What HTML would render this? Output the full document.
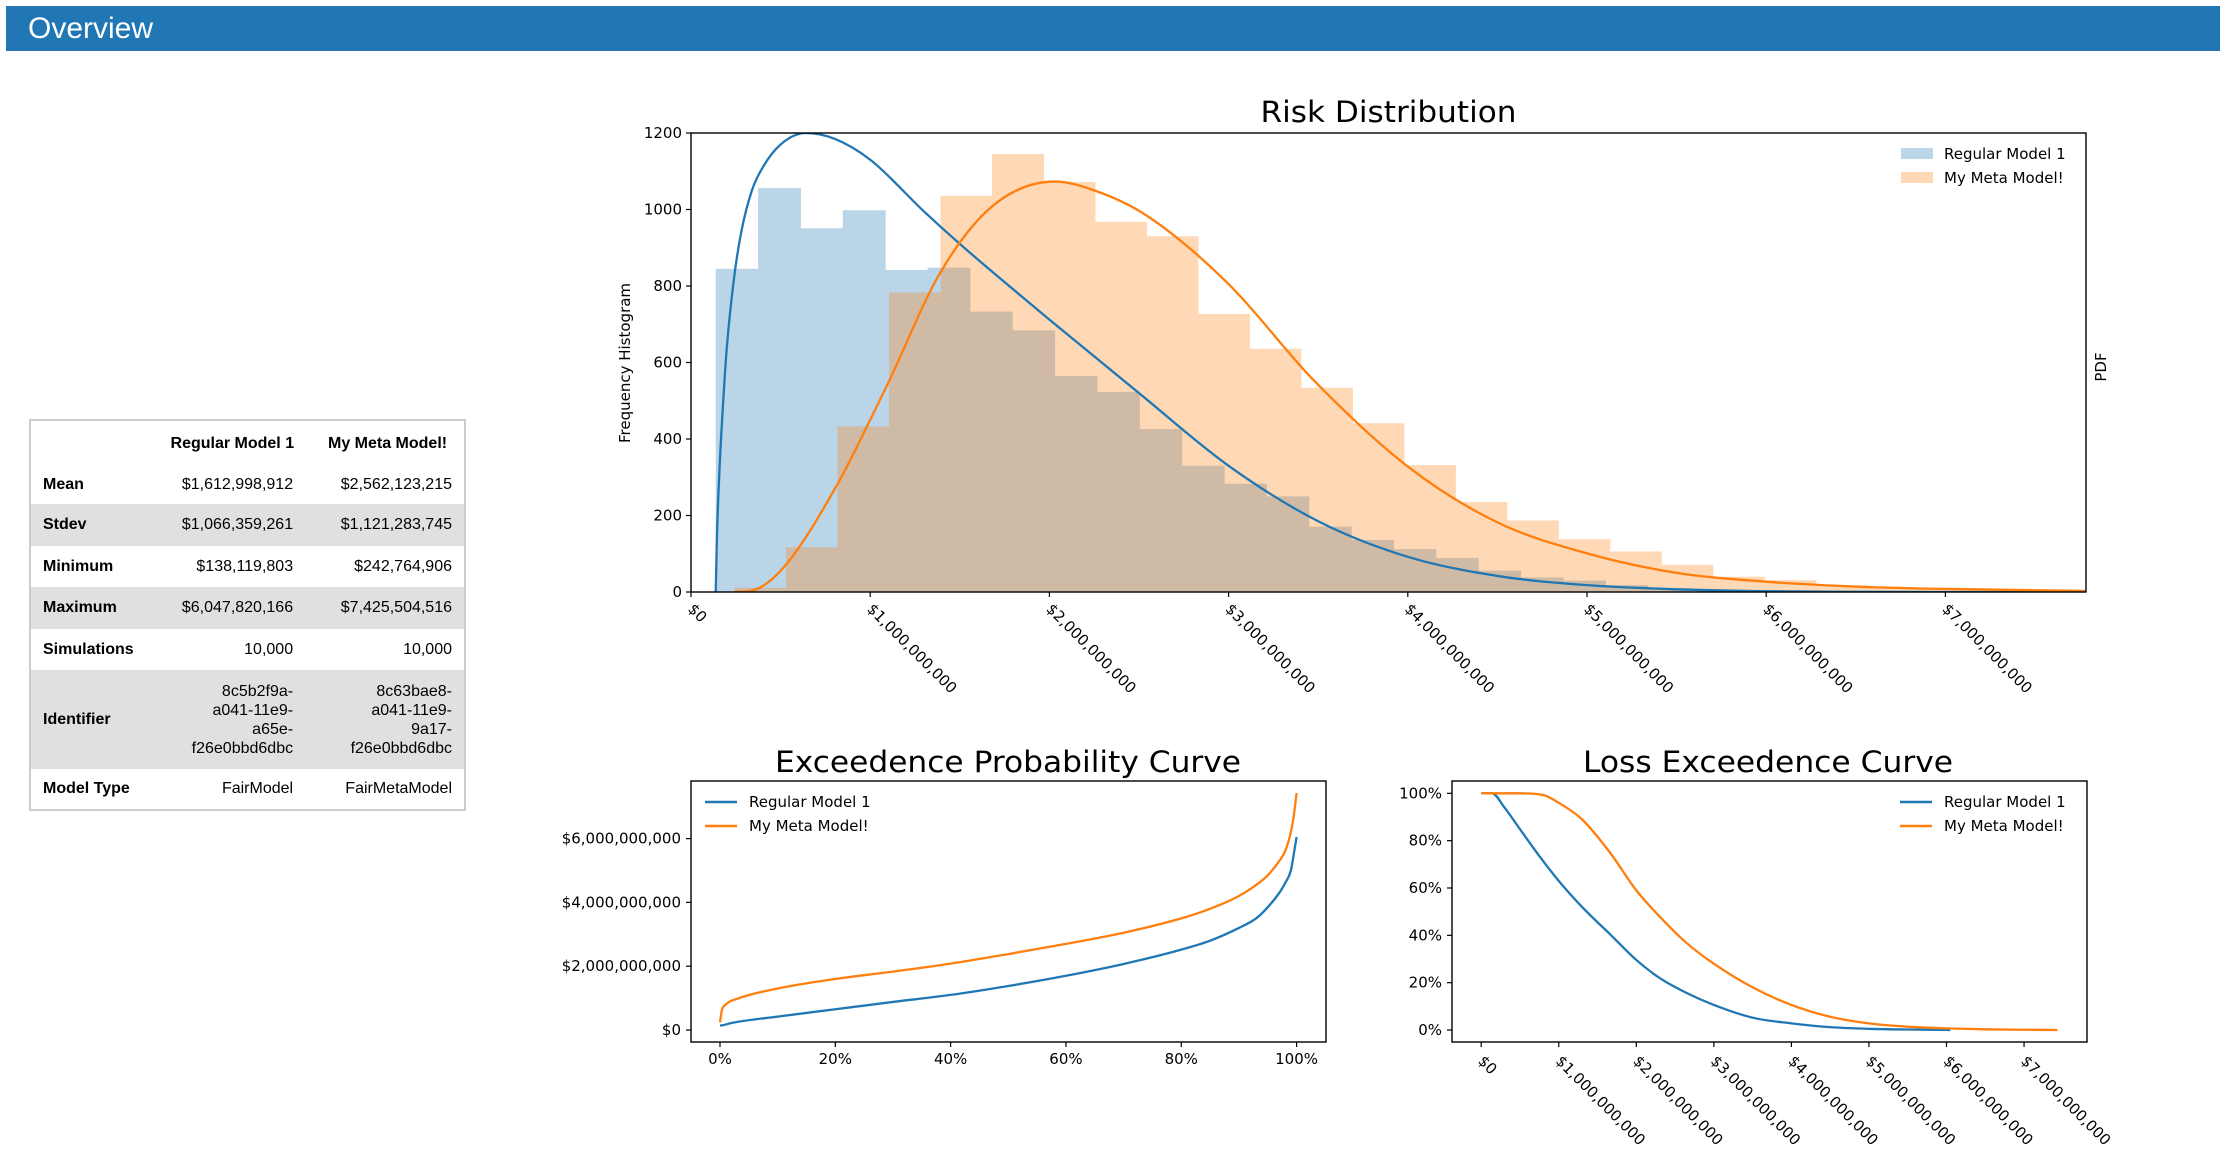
<!DOCTYPE html>
<html><head><meta charset="utf-8"><style>
body{margin:0;background:#fff;width:2229px;height:1167px;position:relative;overflow:hidden;font-family:"Liberation Sans",Arial,sans-serif}
#hdr{position:absolute;left:6px;top:6px;width:2214px;height:45px;background:#2077b4}
#hdr span{position:absolute;left:22px;top:6px;color:#fff;font-size:30px}
#tbl{position:absolute;left:29px;top:419px;width:437px;border-collapse:collapse;border:2px solid #ccc;font-size:16px;color:#000}
#tbl td,#tbl th{padding:0 12px;text-align:right;vertical-align:middle}
#tbl td.c1{padding-right:18px}
#tbl td.l{text-align:left;font-weight:bold}
#tbl tr.s{background:#e0e0e0}
#tbl th{font-weight:bold}
svg{position:absolute;left:0;top:0}
svg text{font-family:"DejaVu Sans",sans-serif;fill:#000}
</style></head><body>
<div id="hdr"><span>Overview</span></div>
<table id="tbl">
<tr style="height:46px"><th></th><th style="text-align:center">Regular Model 1</th><th style="text-align:center">My Meta Model!</th></tr>
<tr style="height:38px"><td class="l">Mean</td><td class="c1">$1,612,998,912</td><td>$2,562,123,215</td></tr>
<tr class="s" style="height:42px"><td class="l">Stdev</td><td class="c1">$1,066,359,261</td><td>$1,121,283,745</td></tr>
<tr style="height:41px"><td class="l">Minimum</td><td class="c1">$138,119,803</td><td>$242,764,906</td></tr>
<tr class="s" style="height:42px"><td class="l">Maximum</td><td class="c1">$6,047,820,166</td><td>$7,425,504,516</td></tr>
<tr style="height:41px"><td class="l">Simulations</td><td class="c1">10,000</td><td>10,000</td></tr>
<tr class="s" style="height:99px;line-height:19px"><td class="l">Identifier</td><td class="c1">8c5b2f9a-<br>a041-11e9-<br>a65e-<br>f26e0bbd6dbc</td><td>8c63bae8-<br>a041-11e9-<br>9a17-<br>f26e0bbd6dbc</td></tr>
<tr style="height:41px"><td class="l">Model Type</td><td class="c1">FairModel</td><td>FairMetaModel</td></tr>
</table>
<svg id="svg" width="2229" height="1167" xmlns="http://www.w3.org/2000/svg"></svg>
<script>
// Risk distribution data (values in $B, counts)
const blueMin=0.138, blueMax=6.048;
const blueCounts=[845,1056,951,998,842,848,733,684,565,523,426,330,283,250,171,136,112,89,56,38,30,18,10,6,3];
const orangeMin=0.243, orangeMax=7.426;
const orangeCounts=[11,117,433,783,1036,1145,1072,968,930,727,636,534,441,332,235,187,138,106,71,40,31,18,12,6,4];
const bluePdfX=[0.138,0.145,0.16,0.18,0.2,0.24,0.28,0.34,0.4,0.5,0.64,0.8,1.0,1.3,1.5,1.75,2.0,2.5,3.0,3.5,4.0,4.5,5.0,5.5,6.0,6.5,7.0,7.78];
const bluePdfY=[0,150,330,500,640,820,940,1050,1110,1170,1200,1185,1130,995,910,810,712,520,330,185,92,42,18,7,2,0.5,0,0];
const orangePdfX=[0.243,0.35,0.52,0.82,1.0,1.1,1.39,1.68,2.03,2.25,2.54,3.0,3.47,4.0,4.5,5.0,5.5,6.0,6.5,7.0,7.78];
const orangePdfY=[0,5,66,284,450,546,834,1008,1073,1050,985,805,556,328,182,101,50,27,14,8,3];
const riskYTicks=[0,200,400,600,800,1000,1200];
const dollarTicks=[0,1,2,3,4,5,6,7];
const dollarLabels=["$0","$1,000,000,000","$2,000,000,000","$3,000,000,000","$4,000,000,000","$5,000,000,000","$6,000,000,000","$7,000,000,000"];
// Exceedence probability (quantile) data
const epP=[0,0.005,0.02,0.1,0.2,0.3,0.4,0.5,0.6,0.7,0.8,0.85,0.9,0.93,0.95,0.97,0.98,0.99,0.995,1.0];
const epBlue=[0.14,0.15,0.22,0.42,0.65,0.88,1.1,1.38,1.7,2.07,2.52,2.8,3.2,3.5,3.85,4.3,4.6,5.0,5.5,6.05];
const epOrangeP=[0,0.003,0.01,0.03,0.1,0.2,0.3,0.4,0.5,0.6,0.7,0.8,0.85,0.9,0.93,0.95,0.97,0.98,0.99,0.995,1.0];
const epOrange=[0.24,0.6,0.8,0.98,1.3,1.6,1.83,2.08,2.38,2.7,3.05,3.5,3.8,4.2,4.55,4.85,5.3,5.6,6.2,6.7,7.43];
const epYTicks=[0,2,4,6];
const epYLabels=["$0","$2,000,000,000","$4,000,000,000","$6,000,000,000"];
const epXTicks=[0,0.2,0.4,0.6,0.8,1.0];
const epXLabels=["0%","20%","40%","60%","80%","100%"];
// Loss exceedence data
const lecBlueX=[0,0.14,0.3,0.54,0.75,1.0,1.3,1.66,2.0,2.3,2.64,3.0,3.5,4.0,4.5,5.0,5.5,6.05];
const lecBlueY=[100,100,94,83,73.5,63,52,40.5,29.6,22,15.8,10.6,5.2,2.8,1.2,0.5,0.2,0];
const lecOrangeX=[0,0.5,0.8,1.0,1.3,1.66,2.0,2.3,2.64,3.0,3.5,4.0,4.5,5.0,5.5,6.0,6.5,7.0,7.43];
const lecOrangeY=[100,100,99.3,96,89,75,59,48,37,28,18,10.6,5.6,2.8,1.4,0.7,0.3,0.1,0];
const lecYTicks=[0,20,40,60,80,100];
const lecYLabels=["0%","20%","40%","60%","80%","100%"];

const NS="http://www.w3.org/2000/svg";
const svg=document.getElementById('svg');
function mk(tag,attrs,parent){const e=document.createElementNS(NS,tag);for(const k in attrs)e.setAttribute(k,attrs[k]);(parent||svg).appendChild(e);return e;}
function txt(s,attrs,parent){const e=mk('text',attrs,parent);e.textContent=s;return e;}
const BLUE="#1f77b4",ORANGE="#ff7f0e";

// monotone cubic path through points
function smoothPath(px,py){
  const n=px.length;
  if(n<3)return 'M'+px.map((x,i)=>x+','+py[i]).join('L');
  const d=[],m=[];
  for(let i=0;i<n-1;i++){d.push((py[i+1]-py[i])/(px[i+1]-px[i]));}
  m[0]=d[0];m[n-1]=d[n-2];
  for(let i=1;i<n-1;i++){m[i]=(d[i-1]*d[i]<=0)?0:(d[i-1]+d[i])/2;}
  for(let i=0;i<n-1;i++){
    if(d[i]===0){m[i]=0;m[i+1]=0;continue;}
    const a=m[i]/d[i],b=m[i+1]/d[i],s=a*a+b*b;
    if(s>9){const t=3/Math.sqrt(s);m[i]=t*a*d[i];m[i+1]=t*b*d[i];}
  }
  let p='M'+px[0]+','+py[0];
  for(let i=0;i<n-1;i++){
    const h=(px[i+1]-px[i])/3;
    p+=` C${px[i]+h},${py[i]+m[i]*h} ${px[i+1]-h},${py[i+1]-m[i+1]*h} ${px[i+1]},${py[i+1]}`;
  }
  return p;
}

// ---------- Risk distribution ----------
const R={l:691,r:2086,t:133,b:592};
const xR=v=>R.l+v*179.2, yR=v=>R.b-v/1200*(R.b-R.t);
let defs=mk('defs',{});
let cp=mk('clipPath',{id:'cr'},defs);mk('rect',{x:R.l,y:R.t,width:R.r-R.l,height:R.b-R.t},cp);
let gR=mk('g',{'clip-path':'url(#cr)'});


function hist(counts,mn,mx,fill,name){
  const w=(mx-mn)/counts.length;
  const g=mk('g',{opacity:0.3,fill:fill},gR);
  counts.forEach((c,i)=>{
    const r=mk('rect',{x:xR(mn+i*w),y:yR(c),width:xR(mn+(i+1)*w)-xR(mn+i*w)+0.5,height:R.b-yR(c)},g);
    
    
  });
}
hist(blueCounts,blueMin,blueMax,BLUE,'regular-model-hist');
hist(orangeCounts,orangeMin,orangeMax,ORANGE,'meta-model-hist');
function curve(xs,ys,fx,fy,color,name,parent){
  const p=mk('path',{d:smoothPath(xs.map(fx),ys.map(fy)),fill:'none',stroke:color,'stroke-width':2.3,'stroke-linejoin':'round'},parent);
  
  
  return p;
}
curve(bluePdfX,bluePdfY,xR,yR,BLUE,'regular-model-pdf',gR);
curve(orangePdfX,orangePdfY,xR,yR,ORANGE,'meta-model-pdf',gR);
let fr=mk('rect',{x:R.l,y:R.t,width:R.r-R.l,height:R.b-R.t,fill:'none',stroke:'#000','stroke-width':1.4});


riskYTicks.forEach(v=>{
  mk('line',{x1:R.l-5,x2:R.l,y1:yR(v),y2:yR(v),stroke:'#000','stroke-width':1.2});
  const t=txt(String(v),{x:R.l-9,y:yR(v)+5,'text-anchor':'end','font-size':15});
  
  
});
dollarTicks.forEach((v,i)=>{
  const x=xR(v);
  mk('line',{x1:x,x2:x,y1:R.b,y2:R.b+5,stroke:'#000','stroke-width':1.2});
  const t=txt(dollarLabels[i],{x:0,y:0,'font-size':15,'dominant-baseline':'hanging',transform:`translate(${x+4},${R.b+10}) rotate(45)`});
  
  
});
let tt=txt('Risk Distribution',{x:(R.l+R.r)/2,y:122,'text-anchor':'middle','font-size':29,textLength:256,lengthAdjust:'spacingAndGlyphs'});


let yl=txt('Frequency Histogram',{x:0,y:0,'text-anchor':'middle','font-size':15,transform:`translate(630,363) rotate(-90)`});


let y2=txt('PDF',{x:0,y:0,'text-anchor':'middle','font-size':15,transform:`translate(2106,367) rotate(-90)`});


[['Regular Model 1','rgba(31,119,180,0.3)',148],['My Meta Model!','rgba(255,127,14,0.3)',172]].forEach(([s,c,y])=>{
  const r=mk('rect',{x:1901,y:y,width:32,height:11,fill:c});
  
  
  const t=txt(s,{x:1944,y:y+11,'font-size':15});
  
  
});

// ---------- Exceedence probability ----------
const E={l:691,r:1326,t:781,b:1042};
const xE=p=>720+p*576.6, yE=v=>1030-v*31.9;
let ce=mk('clipPath',{id:'ce'},defs);mk('rect',{x:E.l,y:E.t,width:E.r-E.l,height:E.b-E.t},ce);
let gE=mk('g',{'clip-path':'url(#ce)'});


curve(epP,epBlue,xE,yE,BLUE,'ep-regular-model-line',gE);
curve(epOrangeP,epOrange,xE,yE,ORANGE,'ep-meta-model-line',gE);
mk('rect',{x:E.l,y:E.t,width:E.r-E.l,height:E.b-E.t,fill:'none',stroke:'#000','stroke-width':1.4});
epYTicks.forEach((v,i)=>{
  mk('line',{x1:E.l-5,x2:E.l,y1:yE(v),y2:yE(v),stroke:'#000','stroke-width':1.2});
  const t=txt(epYLabels[i],{x:E.l-10,y:yE(v)+5,'text-anchor':'end','font-size':15});
  
  
});
epXTicks.forEach((v,i)=>{
  mk('line',{x1:xE(v),x2:xE(v),y1:E.b,y2:E.b+5,stroke:'#000','stroke-width':1.2});
  const t=txt(epXLabels[i],{x:xE(v),y:E.b+22,'text-anchor':'middle','font-size':15});
  
  
});
let te=txt('Exceedence Probability Curve',{x:1008,y:772,'text-anchor':'middle','font-size':29,textLength:466,lengthAdjust:'spacingAndGlyphs'});



// ---------- Loss exceedence ----------
const L={l:1452,r:2087,t:781,b:1042};
const xL=v=>1481.2+v*77.55, yL=v=>1030-v*2.3667;
let cl=mk('clipPath',{id:'cl'},defs);mk('rect',{x:L.l,y:L.t,width:L.r-L.l,height:L.b-L.t},cl);
let gL=mk('g',{'clip-path':'url(#cl)'});


curve(lecBlueX,lecBlueY,xL,yL,BLUE,'lec-regular-model-line',gL);
curve(lecOrangeX,lecOrangeY,xL,yL,ORANGE,'lec-meta-model-line',gL);
mk('rect',{x:L.l,y:L.t,width:L.r-L.l,height:L.b-L.t,fill:'none',stroke:'#000','stroke-width':1.4});
lecYTicks.forEach((v,i)=>{
  mk('line',{x1:L.l-5,x2:L.l,y1:yL(v),y2:yL(v),stroke:'#000','stroke-width':1.2});
  const t=txt(lecYLabels[i],{x:L.l-10,y:yL(v)+5,'text-anchor':'end','font-size':15});
  
  
});
dollarTicks.forEach((v,i)=>{
  const x=xL(v);
  mk('line',{x1:x,x2:x,y1:L.b,y2:L.b+5,stroke:'#000','stroke-width':1.2});
  const t=txt(dollarLabels[i],{x:0,y:0,'font-size':15,'dominant-baseline':'hanging',transform:`translate(${x+4},${L.b+12}) rotate(45)`});
  
  
});
let tl=txt('Loss Exceedence Curve',{x:1768,y:772,'text-anchor':'middle','font-size':29,textLength:370,lengthAdjust:'spacingAndGlyphs'});



// line legends
[[705,749],[1900,1944]].forEach(([lx,tx])=>{
  [['Regular Model 1',BLUE,802],['My Meta Model!',ORANGE,826]].forEach(([s,c,y])=>{
    const l=mk('line',{x1:lx,x2:lx+32,y1:y,y2:y,stroke:c,'stroke-width':2.5});
    
    
    const t=txt(s,{x:tx,y:y+5,'font-size':15});
    
    
  });
});
</script>
</body></html>
